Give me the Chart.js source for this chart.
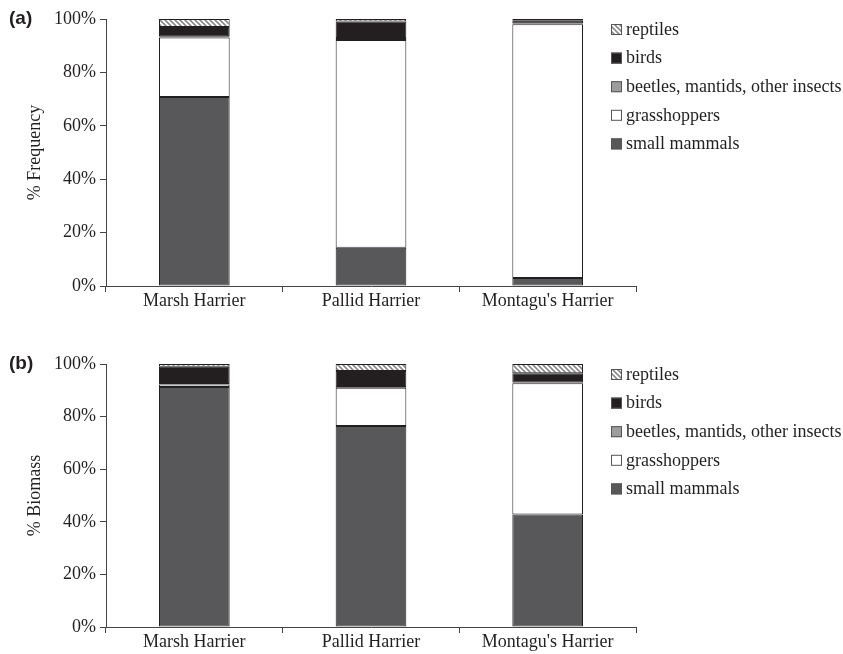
<!DOCTYPE html>
<html>
<head>
<meta charset="utf-8">
<script src="https://cdn.jsdelivr.net/npm/chart.js@4/dist/chart.umd.min.js"></script>
<style>
  html, body { margin: 0; padding: 0; background: #fff; }
  #wrap { position: relative; width: 843px; height: 654px; }
  .panel { position: absolute; left: 0; width: 843px; height: 327px; }
  .panel canvas { display: block; }
  .tag { position: absolute; font-family: "Liberation Sans", Arial, sans-serif; font-weight: bold; font-size: 19px; color: #231f20; }
</style>
</head>
<body>
<div id="wrap">
  <div class="panel" style="top:0"><canvas id="freq" width="843" height="327"></canvas></div>
  <div class="panel" style="top:327px"><canvas id="bio" width="843" height="327"></canvas></div>
  <div class="tag" style="left:9px; top:7px">(a)</div>
  <div class="tag" style="left:9px; top:352px">(b)</div>
</div>
<script>
// Harrier species (categories)
const species = ["Marsh Harrier", "Pallid Harrier", "Montagu's Harrier"];

// Prey groups, bottom of stack first
const preyGroups = ["small mammals", "grasshoppers", "beetles, mantids, other insects", "birds", "reptiles"];

// (a) % frequency of each prey group
const freqSmallMammals = [70.8, 14.3, 3.0];
const freqGrasshoppers = [22.3, 77.8, 95.0];
const freqBeetles      = [0.4, 0.8, 0.3];
const freqBirds        = [3.5, 6.2, 1.2];
const freqReptiles     = [3.0, 0.9, 0.5];

// (b) % biomass of each prey group
const bioSmallMammals = [91.3, 76.4, 42.8];
const bioGrasshoppers = [0.9, 14.6, 49.9];
const bioBeetles      = [0.2, 0.3, 0.3];
const bioBirds        = [6.6, 6.0, 3.5];
const bioReptiles     = [1.0, 2.7, 3.5];

// Y-axis tick values
const yTicks = [0, 20, 40, 60, 80, 100];

const serif = "'Liberation Serif', 'Times New Roman', serif";
const ink = '#231f20';
const fontSize = 18;

// Diagonal hatch used for reptiles
function hatchPattern() {
  const c = document.createElement('canvas');
  c.width = 5; c.height = 5;
  const g = c.getContext('2d');
  g.fillStyle = '#ffffff';
  g.fillRect(0, 0, 5, 5);
  g.strokeStyle = '#8a8a8a';
  g.lineWidth = 1.6;
  g.beginPath();
  g.moveTo(-1, -1); g.lineTo(6, 6);
  g.moveTo(-1, 4); g.lineTo(1, 6);
  g.moveTo(4, -1); g.lineTo(6, 1);
  g.stroke();
  return g.createPattern(c, 'repeat');
}

const fills = ['#58585a', '#ffffff', '#9d9d9f', '#231f20', null];

function buildDatasets(series) {
  const pattern = hatchPattern();
  return series.map((vals, i) => ({
    label: preyGroups[i],
    data: vals,
    backgroundColor: fills[i] || pattern,
    borderColor: ink,
    borderWidth: 1,
    borderSkipped: false,
    barPercentage: 0.4,
    categoryPercentage: 1.0
  }));
}

// Legend drawn at the right, top entry = last stacked group
const sideLegend = {
  id: 'sideLegend',
  afterDraw(chart) {
    const ctx = chart.ctx;
    const area = chart.chartArea;
    const ds = chart.data.datasets.slice().reverse();
    ctx.save();
    ctx.font = fontSize + 'px ' + serif;
    ctx.textBaseline = 'middle';
    ds.forEach((d, k) => {
      const cy = area.top + 10 + k * 28.6;
      const bx = 611;
      ctx.fillStyle = d.backgroundColor;
      ctx.fillRect(bx, cy - 5, 11, 11);
      ctx.strokeStyle = '#555';
      ctx.lineWidth = 1;
      ctx.strokeRect(bx + 0.5, cy - 4.5, 10, 10);
      ctx.fillStyle = ink;
      ctx.fillText(d.label, bx + 15, cy + 1);
    });
    ctx.restore();
  }
};

function makeChart(id, series, yTitle, pad) {
  return new Chart(document.getElementById(id), {
    type: 'bar',
    data: { labels: species, datasets: buildDatasets(series) },
    plugins: [sideLegend],
    options: {
      responsive: false,
      animation: false,
      layout: { padding: pad },
      plugins: { legend: { display: false }, tooltip: { enabled: false } },
      scales: {
        x: {
          stacked: true,
          grid: { offset: true, drawOnChartArea: false, drawTicks: true, tickLength: 6, color: '#444' },
          border: { color: '#444', width: 1 },
          ticks: { color: ink, font: { family: serif, size: fontSize }, padding: -2, maxRotation: 0 },
          afterFit: s => { s.height = 27; }
        },
        y: {
          stacked: true,
          min: 0, max: 100,
          afterBuildTicks: s => { s.ticks = yTicks.map(v => ({ value: v })); },
          grid: { drawOnChartArea: false, drawTicks: true, tickLength: 6, color: '#444' },
          border: { color: '#444', width: 1 },
          ticks: { color: ink, font: { family: serif, size: fontSize }, padding: 4, callback: v => v + '%' },
          title: { display: true, text: yTitle, color: ink, font: { family: serif, size: fontSize }, padding: { top: 24, bottom: 0 } },
          afterFit: s => { s.width = 106; }
        }
      }
    }
  });
}

makeChart('freq',
  [freqSmallMammals, freqGrasshoppers, freqBeetles, freqBirds, freqReptiles],
  '% Frequency', { top: 19, bottom: 14, left: 0, right: 207 });

makeChart('bio',
  [bioSmallMammals, bioGrasshoppers, bioBeetles, bioBirds, bioReptiles],
  '% Biomass', { top: 37, bottom: 0, left: 0, right: 207 });
</script>
</body>
</html>
